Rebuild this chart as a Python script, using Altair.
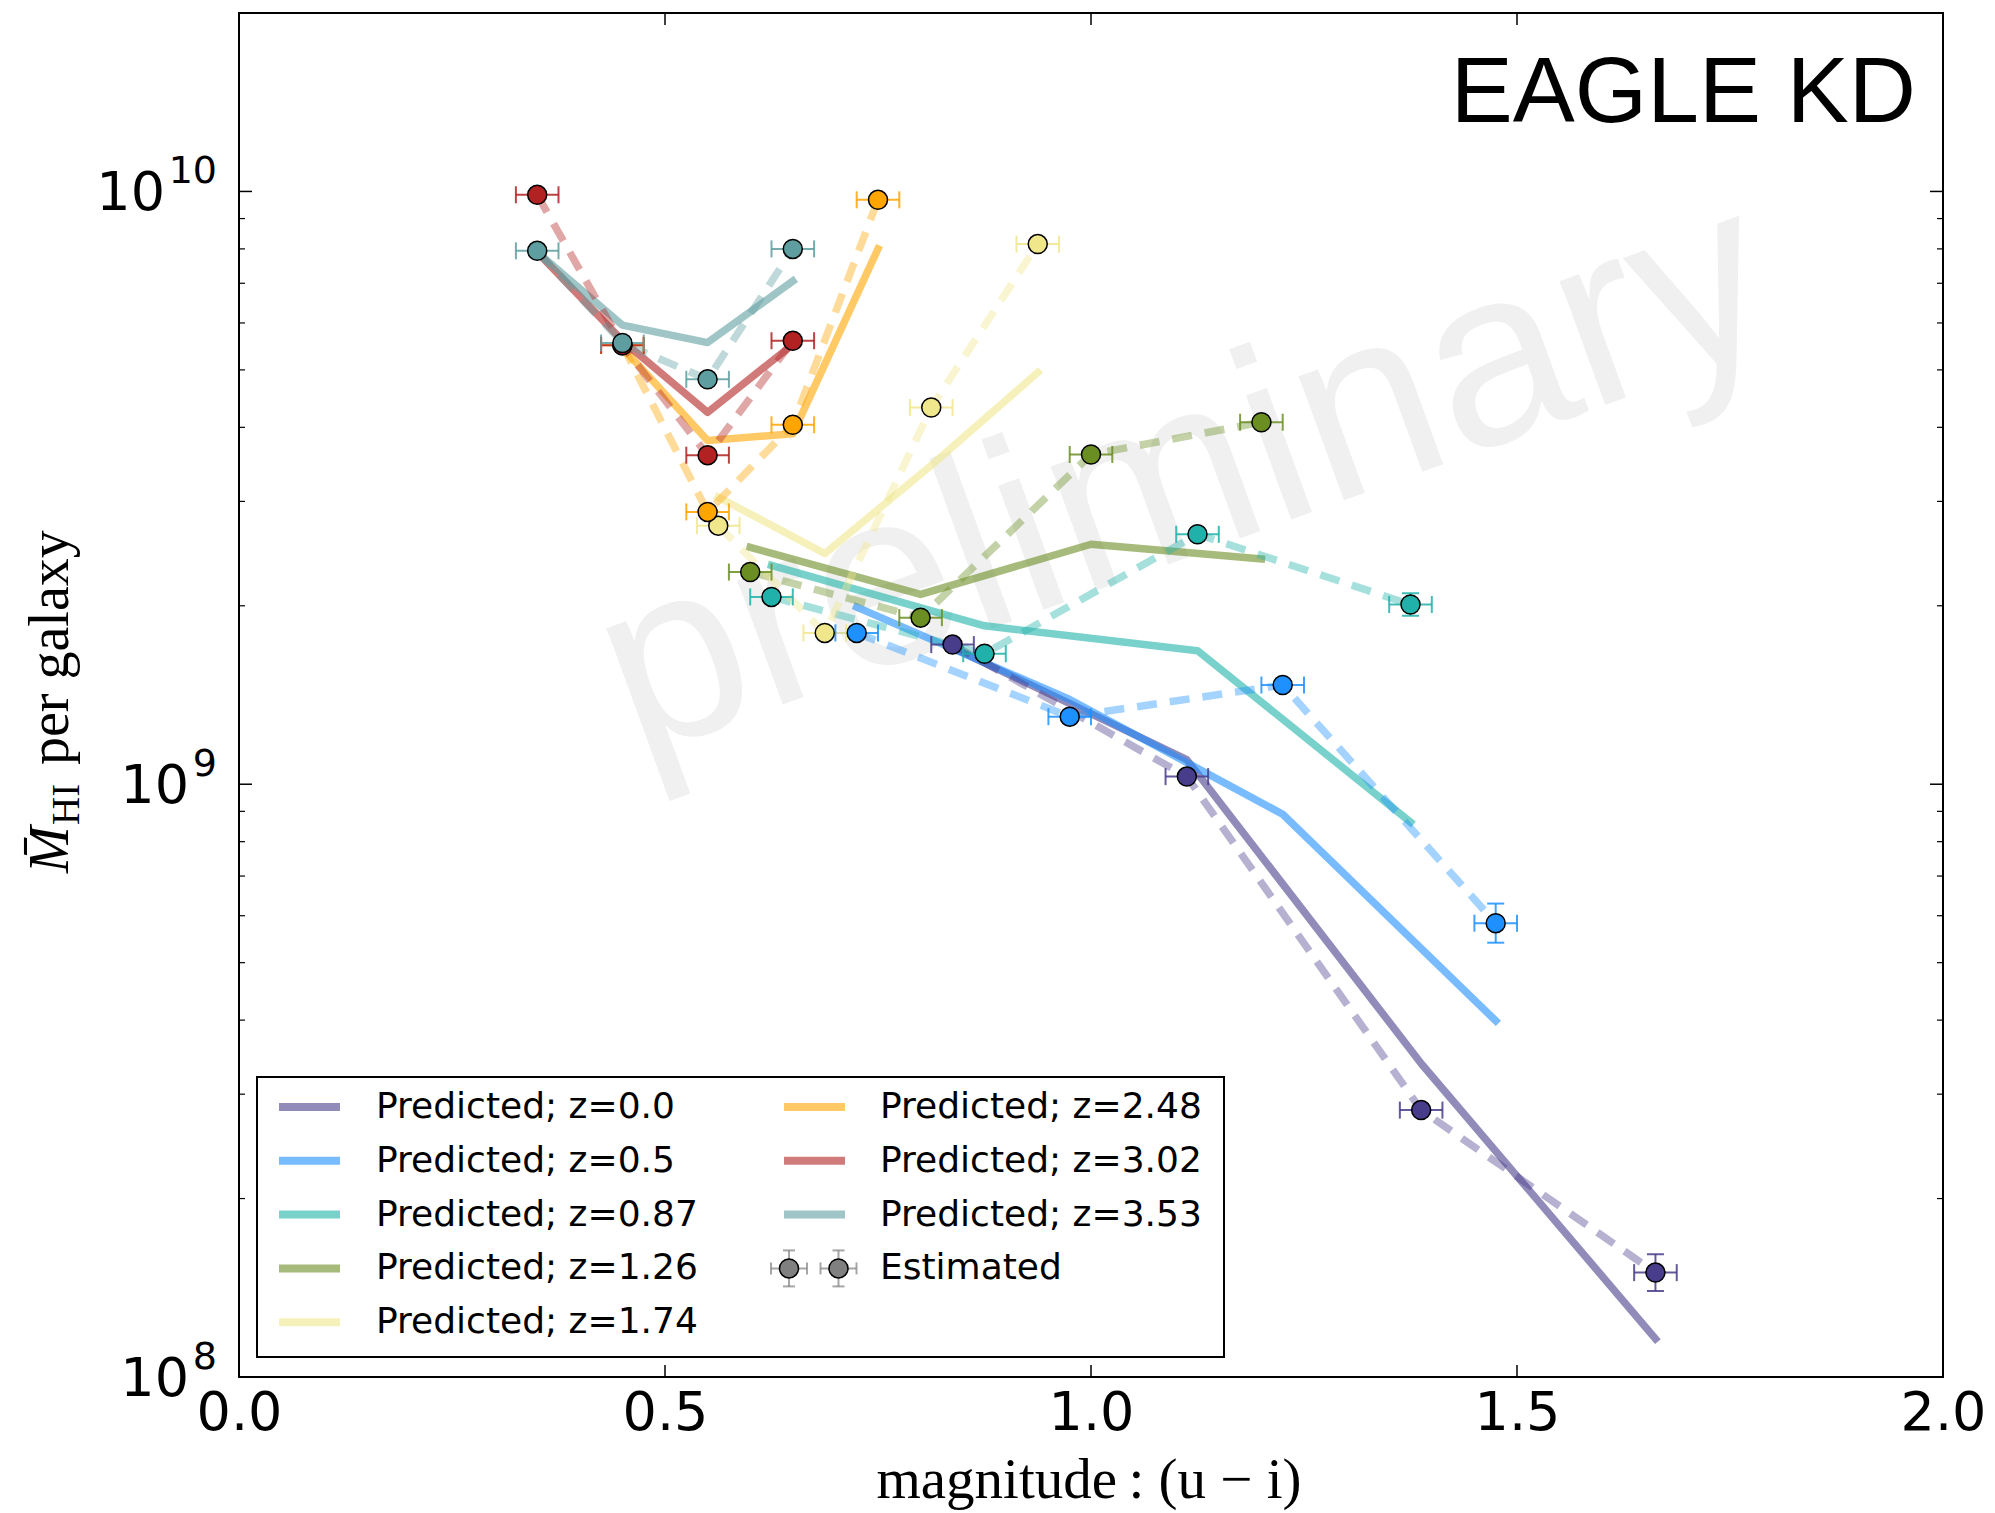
import altair as alt
import pandas as pd

# ---------------- data ----------------
Z_LABELS = ["0.0", "0.5", "0.87", "1.26", "1.74", "2.48", "3.02", "3.53"]
COLORS = ["#483D8B", "#1E90FF", "#20B2AA", "#6B8E23", "#F0E68C", "#FFA500", "#B22222", "#5F9EA0"]

X_Z000 = [0.8375, 1.1125, 1.3875, 1.6625]
EST_Z000 = [1.72e9, 1.03e9, 2.82e8, 1.50e8]
PRED_Z000 = [1.70e9, 1.10e9, 3.38e8, 1.16e8]
YERR_Z000 = [0.0, 0.0, 0.0, 0.031]

X_Z050 = [0.725, 0.975, 1.225, 1.475]
EST_Z050 = [1.80e9, 1.30e9, 1.47e9, 5.83e8]
PRED_Z050 = [1.99e9, 1.39e9, 8.90e8, 3.99e8]
YERR_Z050 = [0.0, 0.0, 0.0, 0.033]

X_Z087 = [0.625, 0.875, 1.125, 1.375]
EST_Z087 = [2.07e9, 1.66e9, 2.64e9, 2.01e9]
PRED_Z087 = [2.34e9, 1.85e9, 1.68e9, 8.63e8]
YERR_Z087 = [0.0, 0.0, 0.0, 0.019]

X_Z126 = [0.6, 0.8, 1.0, 1.2]
EST_Z126 = [2.28e9, 1.91e9, 3.60e9, 4.08e9]
PRED_Z126 = [2.51e9, 2.09e9, 2.54e9, 2.40e9]
YERR_Z126 = [0.0, 0.0, 0.0, 0.0]

X_Z174 = [0.5625, 0.6875, 0.8125, 0.9375]
EST_Z174 = [2.73e9, 1.80e9, 4.32e9, 8.15e9]
PRED_Z174 = [3.05e9, 2.45e9, 3.45e9, 4.95e9]
YERR_Z174 = [0.0, 0.0, 0.0, 0.0]

X_Z248 = [0.45, 0.55, 0.65, 0.75]
EST_Z248 = [5.50e9, 2.88e9, 4.04e9, 9.68e9]
PRED_Z248 = [5.45e9, 3.80e9, 3.90e9, 8.00e9]
YERR_Z248 = [0.0, 0.0, 0.0, 0.0]

X_Z302 = [0.35, 0.45, 0.55, 0.65]
EST_Z302 = [9.87e9, 5.50e9, 3.59e9, 5.60e9]
PRED_Z302 = [7.90e9, 5.60e9, 4.24e9, 5.52e9]
YERR_Z302 = [0.0, 0.0, 0.0, 0.0]

X_Z353 = [0.35, 0.45, 0.55, 0.65]
EST_Z353 = [7.94e9, 5.55e9, 4.82e9, 8.00e9]
PRED_Z353 = [7.90e9, 5.95e9, 5.56e9, 7.06e9]
YERR_Z353 = [0.0, 0.0, 0.0, 0.0]

XERR = 0.025
X_TICKS = [0.0, 0.5, 1.0, 1.5, 2.0]
Y_MAJOR = [1e8, 1e9, 1e10]
Y_EXPONENTS = ["8", "9", "10"]
Y_MINOR = [m * 10 ** e for e in (8, 9) for m in range(2, 10)]

# ---------------- layout ----------------
W, H = 1704, 1364
xs = alt.Scale(domain=[0, 2], nice=False, zero=False)
ys = alt.Scale(type="log", domain=[1e8, 2e10], nice=False)
color = alt.Color("series:N", scale=alt.Scale(domain=Z_LABELS, range=COLORS), legend=None)

series = [
    ("0.0", X_Z000, EST_Z000, PRED_Z000, YERR_Z000),
    ("0.5", X_Z050, EST_Z050, PRED_Z050, YERR_Z050),
    ("0.87", X_Z087, EST_Z087, PRED_Z087, YERR_Z087),
    ("1.26", X_Z126, EST_Z126, PRED_Z126, YERR_Z126),
    ("1.74", X_Z174, EST_Z174, PRED_Z174, YERR_Z174),
    ("2.48", X_Z248, EST_Z248, PRED_Z248, YERR_Z248),
    ("3.02", X_Z302, EST_Z302, PRED_Z302, YERR_Z302),
    ("3.53", X_Z353, EST_Z353, PRED_Z353, YERR_Z353),
]

pred_rows, est_rows, cap_rows, vcap_rows = [], [], [], []
for lab, xv, est, pred, yerr in series:
    for k, (x, e, p, ye) in enumerate(zip(xv, est, pred, yerr)):
        pred_rows.append(dict(series=lab, x=x, y=p, k=k))
        est_rows.append(dict(series=lab, x=x, y=e, k=k, xlo=x - XERR, xhi=x + XERR,
                             ylo=e * 10 ** (-ye), yhi=e * 10 ** ye, ye=ye))
        cap_rows.append(dict(series=lab, x=x - XERR, y=e))
        cap_rows.append(dict(series=lab, x=x + XERR, y=e))
        if ye > 0:
            vcap_rows.append(dict(series=lab, x=x, y=e * 10 ** (-ye)))
            vcap_rows.append(dict(series=lab, x=x, y=e * 10 ** ye))

pred_df = pd.DataFrame(pred_rows)
est_df = pd.DataFrame(est_rows)
cap_df = pd.DataFrame(cap_rows)
vcap_df = pd.DataFrame(vcap_rows)
vbar_df = est_df[est_df["ye"] > 0]

xaxis = alt.Axis(values=X_TICKS, format=".1f", title=None, grid=False, ticks=False, tickSize=0,
                 domain=False, labelFont="DejaVu Sans", labelFontSize=54, labelColor="black",
                 labelPadding=9, labelFlush=False, labelOverlap=False, labelBaseline="top")

one = pd.DataFrame({"a": [0]})

# watermark
water = alt.Chart(pd.DataFrame({"x": [1.11], "y": [3.28e9], "t": ["preliminary"]})).mark_text(
    angle=340, fontSize=250, font="Liberation Sans", color="#F0F0F0", align="center", baseline="middle"
).encode(x=alt.X("x:Q", scale=xs, axis=xaxis), y=alt.Y("y:Q", scale=ys, axis=None), text="t:N")

solid = alt.Chart(pred_df).mark_line(strokeWidth=7.5, opacity=0.6, strokeCap="square", strokeJoin="round").encode(
    x=alt.X("x:Q", scale=xs), y=alt.Y("y:Q", scale=ys), color=color, detail="series:N", order="k:Q")

dashed = alt.Chart(est_df).mark_line(strokeWidth=7.5, opacity=0.4, strokeDash=[20, 13], strokeCap="butt").encode(
    x=alt.X("x:Q", scale=xs), y=alt.Y("y:Q", scale=ys), color=color, detail="series:N", order="k:Q")

hbar = alt.Chart(est_df).mark_rule(strokeWidth=2, opacity=0.85).encode(
    x=alt.X("xlo:Q", scale=xs), x2="xhi:Q", y=alt.Y("y:Q", scale=ys), color=color)
hcap = alt.Chart(cap_df).mark_tick(orient="vertical", size=17, thickness=2, opacity=0.85).encode(
    x=alt.X("x:Q", scale=xs), y=alt.Y("y:Q", scale=ys), color=color)
vbar = alt.Chart(vbar_df).mark_rule(strokeWidth=2, opacity=0.85).encode(
    x=alt.X("x:Q", scale=xs), y=alt.Y("ylo:Q", scale=ys), y2="yhi:Q", color=color)
vcap = alt.Chart(vcap_df).mark_tick(orient="horizontal", size=17, thickness=2, opacity=0.85).encode(
    x=alt.X("x:Q", scale=xs), y=alt.Y("y:Q", scale=ys), color=color)

points = alt.Chart(est_df).mark_point(filled=True, shape="circle", size=361, stroke="black",
                                      strokeWidth=1.5, opacity=1).encode(
    x=alt.X("x:Q", scale=xs), y=alt.Y("y:Q", scale=ys), color=color)

# inward ticks on all four sides
ymaj_df = pd.DataFrame({"v": Y_MAJOR})
ymin_df = pd.DataFrame({"v": Y_MINOR})
xt_df = pd.DataFrame({"v": X_TICKS[1:-1]})
tick_layers = [
    alt.Chart(ymaj_df).mark_rule(color="black", strokeWidth=1.5).encode(
        y=alt.Y("v:Q", scale=ys), x=alt.value(0), x2=alt.value(13)),
    alt.Chart(ymaj_df).mark_rule(color="black", strokeWidth=1.5).encode(
        y=alt.Y("v:Q", scale=ys), x=alt.value(W - 13), x2=alt.value(W)),
    alt.Chart(ymin_df).mark_rule(color="black", strokeWidth=1.2).encode(
        y=alt.Y("v:Q", scale=ys), x=alt.value(0), x2=alt.value(6)),
    alt.Chart(ymin_df).mark_rule(color="black", strokeWidth=1.2).encode(
        y=alt.Y("v:Q", scale=ys), x=alt.value(W - 6), x2=alt.value(W)),
    alt.Chart(xt_df).mark_rule(color="black", strokeWidth=1.5).encode(
        x=alt.X("v:Q", scale=xs), y=alt.value(H - 12), y2=alt.value(H)),
    alt.Chart(xt_df).mark_rule(color="black", strokeWidth=1.5).encode(
        x=alt.X("v:Q", scale=xs), y=alt.value(0), y2=alt.value(12)),
]

# y tick labels 10^n
ylab_df = pd.DataFrame({"v": Y_MAJOR, "e": Y_EXPONENTS})
ylab_df["bx"] = -22 - 24 * ylab_df["e"].str.len() - 4
ylab_base = alt.Chart(ylab_df).mark_text(font="DejaVu Sans", fontSize=54, align="right",
                                         baseline="alphabetic", dy=19, color="black").encode(
    x=alt.X("bx:Q", scale=None), y=alt.Y("v:Q", scale=ys), text=alt.value("10"))
ylab_exp = alt.Chart(ylab_df).mark_text(font="DejaVu Sans", fontSize=38, align="right",
                                        baseline="alphabetic", dy=-8, color="black").encode(
    x=alt.value(-22), y=alt.Y("v:Q", scale=ys), text="e:N")

# axis titles
xtitle = alt.Chart(one).mark_text(font="Liberation Serif", fontSize=57, align="center",
                                  baseline="alphabetic", color="black").encode(
    x=alt.value(850), y=alt.value(H + 121), text=alt.value("magnitude\u2009: (u \u2212 i)"))
yt_M = alt.Chart(one).mark_text(font="Liberation Serif", fontSize=56, fontStyle="italic", angle=270,
                                align="left", baseline="alphabetic", color="black").encode(
    x=alt.value(-171), y=alt.value(860), text=alt.value("M\u0304"))
yt_HI = alt.Chart(one).mark_text(font="Liberation Serif", fontSize=39, angle=270,
                                 align="left", baseline="alphabetic", color="black").encode(
    x=alt.value(-160), y=alt.value(812), text=alt.value("HI"))
yt_rest = alt.Chart(one).mark_text(font="Liberation Serif", fontSize=56, angle=270,
                                   align="left", baseline="alphabetic", color="black").encode(
    x=alt.value(-171), y=alt.value(752), text=alt.value("per galaxy"))

# label in the corner
eagle = alt.Chart(one).mark_text(font="Liberation Sans", fontSize=93, align="right",
                                 baseline="alphabetic", color="black").encode(
    x=alt.value(W - 27), y=alt.value(109), text=alt.value("EAGLE KD"))

# legend (two columns, column-major like the reference)
ROW0, DROW = 1094, 53.8
leg_rows = []
for i, lab in enumerate(Z_LABELS):
    col, row = (0, i) if i < 5 else (1, i - 5)
    lx = 40 if col == 0 else 545
    tx = 137 if col == 0 else 641
    leg_rows.append(dict(series=lab, lx=lx, lx2=lx + 61, tx=tx, py=ROW0 + row * DROW,
                         label="Predicted; z=" + lab))
leg_df = pd.DataFrame(leg_rows)
est_leg = pd.DataFrame({"cx": [550.0, 599.5], "cy": [ROW0 + 3 * DROW] * 2})
est_leg["l"] = est_leg["cx"] - 18
est_leg["r"] = est_leg["cx"] + 18
est_leg["t"] = est_leg["cy"] - 18
est_leg["b"] = est_leg["cy"] + 18

leg_box = alt.Chart(one).mark_rect(fill="white", stroke="black", strokeWidth=2).encode(
    x=alt.value(18), x2=alt.value(985), y=alt.value(1064), y2=alt.value(1344))
leg_lines = alt.Chart(leg_df).mark_rule(strokeWidth=8, opacity=0.6, strokeCap="butt").encode(
    x=alt.X("lx:Q", scale=None), x2="lx2:Q", y=alt.Y("py:Q", scale=None), color=color)
leg_text = alt.Chart(leg_df).mark_text(font="DejaVu Sans", fontSize=36, align="left",
                                       baseline="middle", color="black").encode(
    x=alt.X("tx:Q", scale=None), y=alt.Y("py:Q", scale=None), text="label:N")
est_h = alt.Chart(est_leg).mark_rule(color="#808080", strokeWidth=2, opacity=0.7).encode(
    x=alt.X("l:Q", scale=None), x2="r:Q", y=alt.Y("cy:Q", scale=None))
est_v = alt.Chart(est_leg).mark_rule(color="#808080", strokeWidth=2, opacity=0.7).encode(
    x=alt.X("cx:Q", scale=None), y=alt.Y("t:Q", scale=None), y2="b:Q")
est_cl = alt.Chart(est_leg).mark_tick(orient="vertical", size=12, thickness=2, color="#808080", opacity=0.7).encode(
    x=alt.X("l:Q", scale=None), y=alt.Y("cy:Q", scale=None))
est_cr = alt.Chart(est_leg).mark_tick(orient="vertical", size=12, thickness=2, color="#808080", opacity=0.7).encode(
    x=alt.X("r:Q", scale=None), y=alt.Y("cy:Q", scale=None))
est_ct = alt.Chart(est_leg).mark_tick(orient="horizontal", size=12, thickness=2, color="#808080", opacity=0.7).encode(
    x=alt.X("cx:Q", scale=None), y=alt.Y("t:Q", scale=None))
est_cb = alt.Chart(est_leg).mark_tick(orient="horizontal", size=12, thickness=2, color="#808080", opacity=0.7).encode(
    x=alt.X("cx:Q", scale=None), y=alt.Y("b:Q", scale=None))
est_pt = alt.Chart(est_leg).mark_point(filled=True, shape="circle", size=361, fill="#808080",
                                       stroke="black", strokeWidth=1.5, opacity=1).encode(
    x=alt.X("cx:Q", scale=None), y=alt.Y("cy:Q", scale=None))
est_txt = alt.Chart(one).mark_text(font="DejaVu Sans", fontSize=36, align="left",
                                   baseline="middle", color="black").encode(
    x=alt.value(641), y=alt.value(ROW0 + 3 * DROW), text=alt.value("Estimated"))

chart = alt.layer(
    water, solid, dashed, hbar, hcap, vbar, vcap, points,
    *tick_layers, ylab_base, ylab_exp, xtitle, yt_M, yt_HI, yt_rest, eagle,
    leg_box, leg_lines, leg_text, est_h, est_v, est_cl, est_cr, est_ct, est_cb, est_pt, est_txt,
).properties(
    width=W, height=H,
    autosize=alt.AutoSizeParams(type="none"),
    padding={"left": 239, "top": 13, "right": 52, "bottom": 136},
    background="white",
).configure_view(stroke="black", strokeWidth=2)

chart.save("out.html", embed_options={"renderer": "svg", "actions": False})
